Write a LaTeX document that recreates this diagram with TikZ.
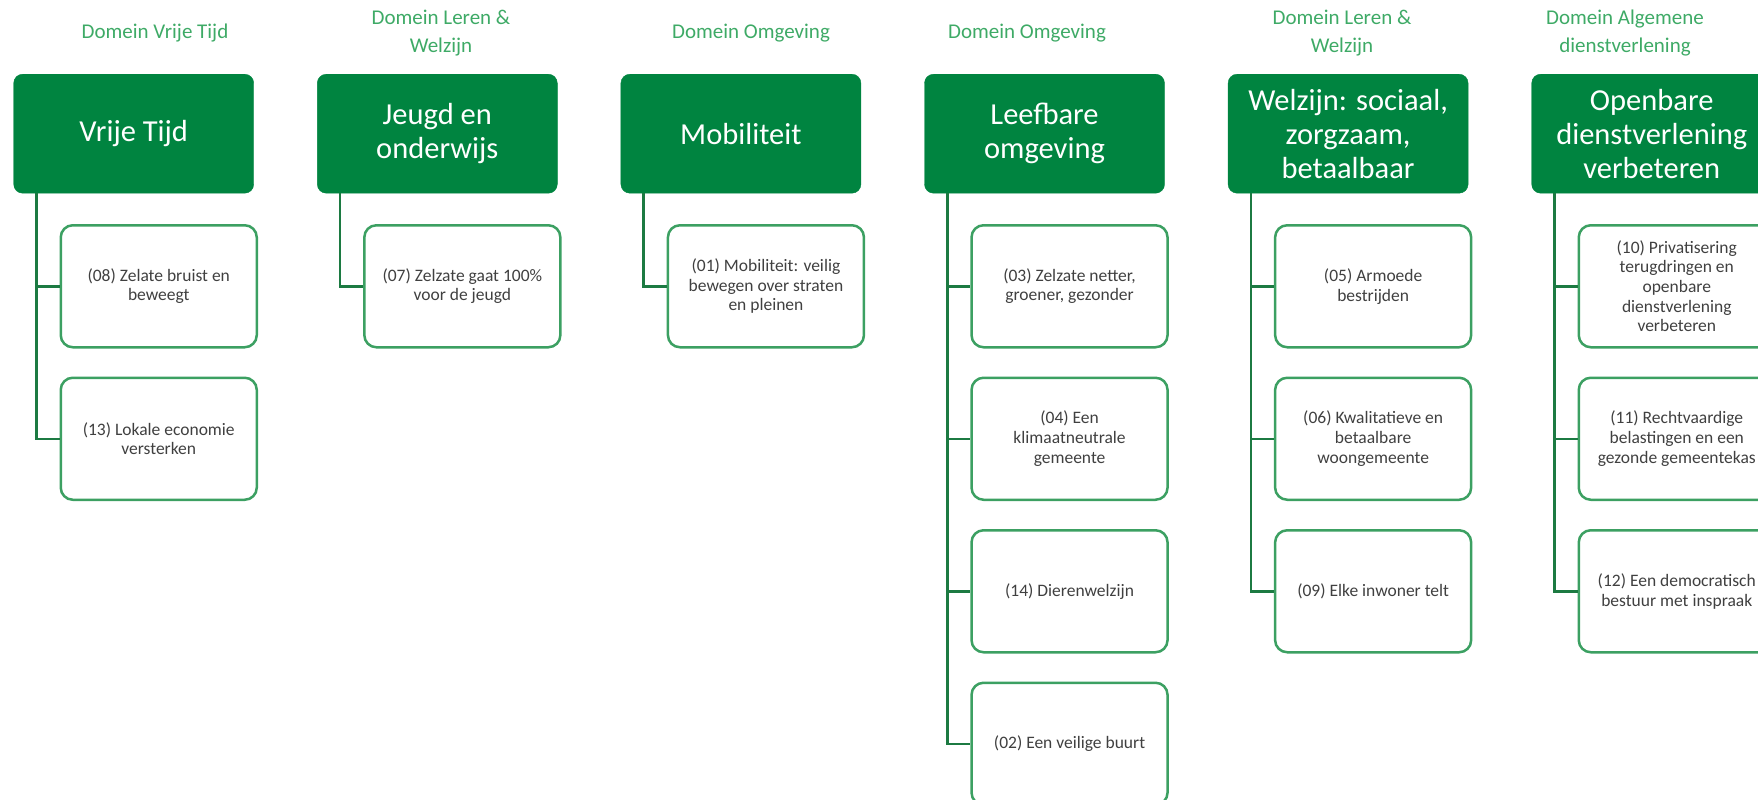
\documentclass[tikz,border=0pt]{standalone}
\usepackage{fontspec}
\setmainfont{Carlito}
\usepackage{xcolor}
\usepackage{tikz}
\usetikzlibrary{positioning}
\definecolor{domgreen}{RGB}{0,132,64}
\definecolor{titlegreen}{RGB}{62,170,102}
\definecolor{boxgreen}{RGB}{60,160,98}
\definecolor{linegreen}{RGB}{28,122,66}
\definecolor{boxtext}{RGB}{64,64,64}

\begin{document}
\begin{tikzpicture}[x=1pt, y=-1pt,
    domtitle/.style={text=titlegreen, font=\fontsize{21}{28}\selectfont, align=center},
    theme/.style={fill=domgreen, draw=domgreen, rounded corners=9pt, minimum width=240pt, minimum height=119pt, text=white, align=center, font=\fontsize{30.5}{34}\selectfont, anchor=north west, inner sep=0pt},
    goal/.style={draw=boxgreen, line width=2.5pt, fill=white, rounded corners=12pt, minimum width=196pt, minimum height=122pt, text=boxtext, align=center, font=\fontsize{17.5}{19.7}\selectfont, anchor=north west, inner sep=0pt},
    branch/.style={draw=linegreen, line width=2.5pt}]
    \useasboundingbox (0,0) rectangle (1758,800);

    \node[domtitle] (dvrije) at (155,33) {Domein Vrije Tijd};
    \node[domtitle] (dleren) at (441,33) {Domein Leren \&\\Welzijn};
    \node[domtitle] (domg) at (751,33) {Domein Omgeving};
    \node[domtitle] (domg2) at (1027,33) {Domein Omgeving};
    \node[domtitle] (dleren2) at (1342,33) {Domein Leren \&\\Welzijn};
    \node[domtitle] (dalg) at (1625,33) {Domein Algemene\\dienstverlening};

    \node[theme] (vrije) at (13.5,74) {Vrije Tijd};
    \node[theme] (jeugd) at (317.1,74) {Jeugd en\\onderwijs};
    \node[theme] (mobi) at (620.7,74) {Mobiliteit};
    \node[theme] (leef) at (924.3,74) {Leefbare\\omgeving};
    \node[theme] (welz) at (1227.9,74) {Welzijn: sociaal,\\zorgzaam,\\betaalbaar};
    \node[theme] (open) at (1531.5,74) {Openbare\\dienstverlening\\verbeteren};

    \node[goal] (g08) at (59.5,224) {(08) Zelate bruist en\\beweegt};
    \node[goal] (g13) at (59.5,376.5) {(13) Lokale economie\\versterken};
    \node[goal] (g07) at (363.1,224) {(07) Zelzate gaat 100\%\\voor de jeugd};
    \node[goal] (g01) at (666.7,224) {(01) Mobiliteit: veilig\\bewegen over straten\\en pleinen};
    \node[goal] (g03) at (970.3,224) {(03) Zelzate netter,\\groener, gezonder};
    \node[goal] (g04) at (970.3,376.5) {(04) Een\\klimaatneutrale\\gemeente};
    \node[goal] (g14) at (970.3,529) {(14) Dierenwelzijn};
    \node[goal] (g02) at (970.3,681.5) {(02) Een veilige buurt};
    \node[goal] (g05) at (1273.9,224) {(05) Armoede\\bestrijden};
    \node[goal] (g06) at (1273.9,376.5) {(06) Kwalitatieve en\\betaalbare\\woongemeente};
    \node[goal] (g09) at (1273.9,529) {(09) Elke inwoner telt};
    \node[goal] (g10) at (1577.5,224) {(10) Privatisering\\terugdringen en\\openbare\\dienstverlening\\verbeteren};
    \node[goal] (g11) at (1577.5,376.5) {(11) Rechtvaardige\\belastingen en een\\gezonde gemeentekas};
    \node[goal] (g12) at (1577.5,529) {(12) Een democratisch\\bestuur met inspraak};

    \coordinate (tvrije) at (36.5,193);
    \coordinate (tjeugd) at (340.1,193);
    \coordinate (tmobi) at (643.7,193);
    \coordinate (tleef) at (947.3,193);
    \coordinate (twelz) at (1250.9,193);
    \coordinate (topen) at (1554.5,193);

    \draw[branch] (tvrije) |- (g08.west);
    \draw[branch] (tvrije) |- (g13.west);
    \draw[branch] (tjeugd) |- (g07.west);
    \draw[branch] (tmobi) |- (g01.west);
    \draw[branch] (tleef) |- (g03.west);
    \draw[branch] (tleef) |- (g04.west);
    \draw[branch] (tleef) |- (g14.west);
    \draw[branch] (tleef) |- (g02.west);
    \draw[branch] (twelz) |- (g05.west);
    \draw[branch] (twelz) |- (g06.west);
    \draw[branch] (twelz) |- (g09.west);
    \draw[branch] (topen) |- (g10.west);
    \draw[branch] (topen) |- (g11.west);
    \draw[branch] (topen) |- (g12.west);
\end{tikzpicture}
\end{document}
